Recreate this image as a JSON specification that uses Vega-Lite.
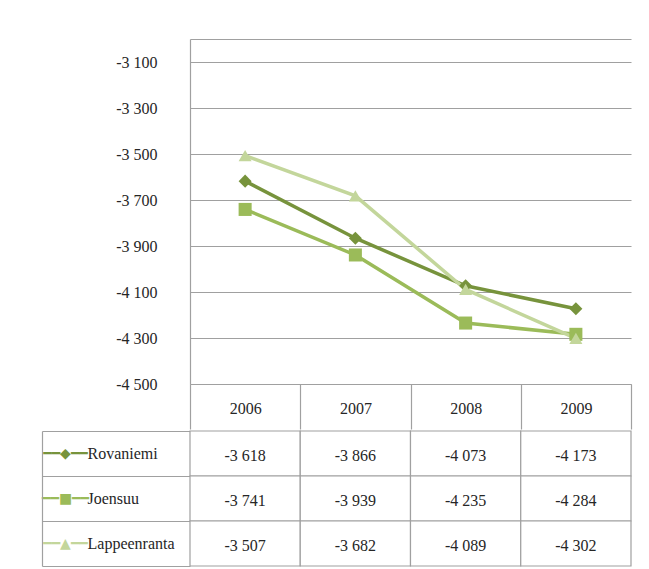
{
  "$schema": "https://vega.github.io/schema/vega-lite/v6.json",
  "padding": {"left": 41, "top": 39, "right": 10, "bottom": 0},
  "background": "white",
  "config": {
    "locale": {"number": {"decimal": ",", "thousands": " ", "grouping": [3], "currency": ["", " €"], "minus": "-"}},
    "font": "Liberation Sans Narrow",
    "view": {"stroke": null},
    "concat": {"spacing": 0}
  },
  "datasets": {
    "values": [
      {"city": "Rovaniemi", "year": "2006", "value": -3618},
      {"city": "Rovaniemi", "year": "2007", "value": -3866},
      {"city": "Rovaniemi", "year": "2008", "value": -4073},
      {"city": "Rovaniemi", "year": "2009", "value": -4173},
      {"city": "Joensuu", "year": "2006", "value": -3741},
      {"city": "Joensuu", "year": "2007", "value": -3939},
      {"city": "Joensuu", "year": "2008", "value": -4235},
      {"city": "Joensuu", "year": "2009", "value": -4284},
      {"city": "Lappeenranta", "year": "2006", "value": -3507},
      {"city": "Lappeenranta", "year": "2007", "value": -3682},
      {"city": "Lappeenranta", "year": "2008", "value": -4089},
      {"city": "Lappeenranta", "year": "2009", "value": -4302}
    ]
  },
  "resolve": {"scale": {"x": "independent", "y": "independent"}},
  "spacing": -6,
  "vconcat": [
    {
      "width": 441,
      "height": 345,
      "data": {"name": "values"},
      "encoding": {
        "x": {
          "field": "year", "type": "nominal",
          "scale": {"type": "band", "paddingInner": 0, "paddingOuter": 0},
          "axis": {
            "title": null, "orient": "bottom", "grid": false,
            "domain": true, "domainColor": "#A0A0A0", "domainWidth": 1.2,
            "ticks": true, "tickBand": "extent", "tickSize": 45, "tickColor": "#A0A0A0", "tickWidth": 1.2,
            "labelAngle": 0, "labelBaseline": "middle", "labelPadding": -21,
            "labelFontSize": 16, "labelColor": "#262626"
          }
        },
        "y": {
          "field": "value", "type": "quantitative",
          "scale": {"domain": [-4500, -3000], "nice": false, "zero": false},
          "axis": {
            "title": null, "values": [-4500, -4300, -4100, -3900, -3700, -3500, -3300, -3100, -3000],
            "labelExpr": "datum.value == -3000 ? '' : format(datum.value, ',')",
            "domain": true, "domainColor": "#A0A0A0", "domainWidth": 1.2,
            "ticks": false, "grid": true, "gridColor": "#A0A0A0", "gridWidth": 1.2,
            "labelPadding": 33, "labelFontSize": 16, "labelColor": "#262626"
          }
        },
        "color": {
          "field": "city", "type": "nominal",
          "scale": {"domain": ["Rovaniemi", "Joensuu", "Lappeenranta"], "range": ["#77933C", "#9BBB59", "#C3D69B"]},
          "legend": null
        }
      },
      "layer": [
        {"mark": {"type": "line", "strokeWidth": 3.5}},
        {
          "mark": {"type": "point", "filled": true, "opacity": 1, "size": 170},
          "encoding": {
            "shape": {
              "field": "city", "type": "nominal",
              "scale": {"domain": ["Rovaniemi", "Joensuu", "Lappeenranta"], "range": ["diamond", "square", "triangle-up"]},
              "legend": null
            }
          }
        }
      ]
    },
    {
      "width": 441,
      "height": 135,
      "data": {"name": "values"},
      "encoding": {
        "x": {
          "field": "year", "type": "nominal",
          "scale": {"type": "band", "paddingInner": 0, "paddingOuter": 0},
          "axis": null
        }
      },
      "layer": [
        {
          "mark": {"type": "rect", "fill": "white", "stroke": "#A0A0A0", "strokeWidth": 1.2},
          "encoding": {
            "y": {
              "field": "city", "type": "nominal", "sort": ["Rovaniemi", "Joensuu", "Lappeenranta"],
              "scale": {"type": "band", "paddingInner": 0, "paddingOuter": 0},
              "axis": {
                "title": null, "orient": "left", "offset": 148,
                "domain": true, "domainColor": "#A0A0A0", "domainWidth": 1.2,
                "ticks": false, "grid": false,
                "labelAlign": "left", "labelBaseline": "middle", "labelPadding": -45,
                "labelFontSize": 16, "labelColor": "#262626"
              }
            }
          }
        },
        {
          "mark": {"type": "text", "fontSize": 16, "color": "#262626", "baseline": "middle", "dy": 2},
          "encoding": {
            "text": {"field": "value", "type": "quantitative", "format": ","},
            "y": {
              "field": "city", "type": "nominal", "sort": ["Rovaniemi", "Joensuu", "Lappeenranta"],
              "scale": {"type": "band", "paddingInner": 0, "paddingOuter": 0},
              "axis": {
                "title": null, "orient": "left", "offset": 0,
                "domain": false, "grid": false,
                "ticks": true, "tickBand": "extent", "tickSize": 148, "tickColor": "#A0A0A0", "tickWidth": 1.2,
                "labelExpr": "datum.value == 'Rovaniemi' ? '━━◆━━' : datum.value == 'Joensuu' ? '━━■━━' : datum.value == 'Lappeenranta' ? '━━▲━━' : ''",
                "labelColor": {
                  "condition": [
                    {"test": "datum.value === 'Rovaniemi'", "value": "#77933C"},
                    {"test": "datum.value === 'Joensuu'", "value": "#9BBB59"}
                  ],
                  "value": "#C3D69B"
                },
                "labelFont": "DejaVu Sans", "labelFontSize": 14, "labelFontWeight": "bold",
                "labelAlign": "center", "labelBaseline": "middle", "labelPadding": -23
              }
            }
          }
        }
      ],
      "resolve": {"axis": {"y": "independent"}}
    }
  ]
}
